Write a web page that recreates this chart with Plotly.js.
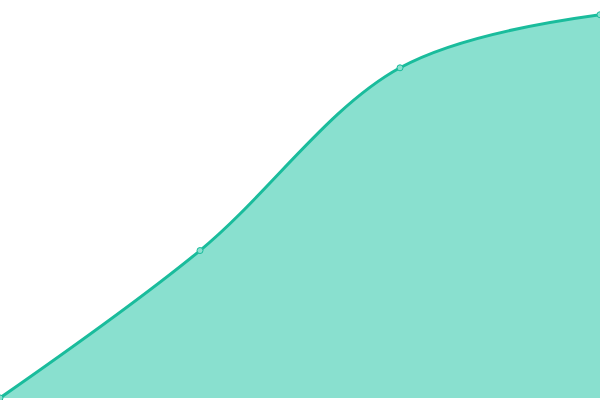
<!DOCTYPE html>
<html>
<head>
<meta charset="utf-8">
<script src="https://cdn.plot.ly/plotly-3.0.1.min.js"></script>
<style>
  html, body { margin: 0; padding: 0; }
  #chart { width: 600px; height: 400px; }
</style>
</head>
<body>
<div id="chart"></div>
<script>
const xs = [0, 1, 2, 3]
const ys = [0, 10, 22.4, 26]

const data = [{
  x: xs,
  y: ys,
  type: 'scatter',
  mode: 'lines+markers',
  fill: 'tozeroy',
  fillcolor: '#89e0cf',
  line: { color: '#1abc9c', width: 3, shape: 'spline' },
  marker: { size: 6, color: '#8ae0cf', line: { color: '#1abc9c', width: 1 } },
  cliponaxis: false,
  hoverinfo: 'x+y'
}]

const layout = {
  width: 600,
  height: 400,
  margin: { l: 0, r: 0, t: 0, b: 0 },
  showlegend: false,
  paper_bgcolor: '#ffffff',
  plot_bgcolor: '#ffffff',
  xaxis: { range: [0, 3], visible: false, fixedrange: true },
  yaxis: { range: [-0.14, 27], visible: false, fixedrange: true }
}

Plotly.newPlot('chart', data, layout, { displayModeBar: false, staticPlot: true })
</script>
</body>
</html>
